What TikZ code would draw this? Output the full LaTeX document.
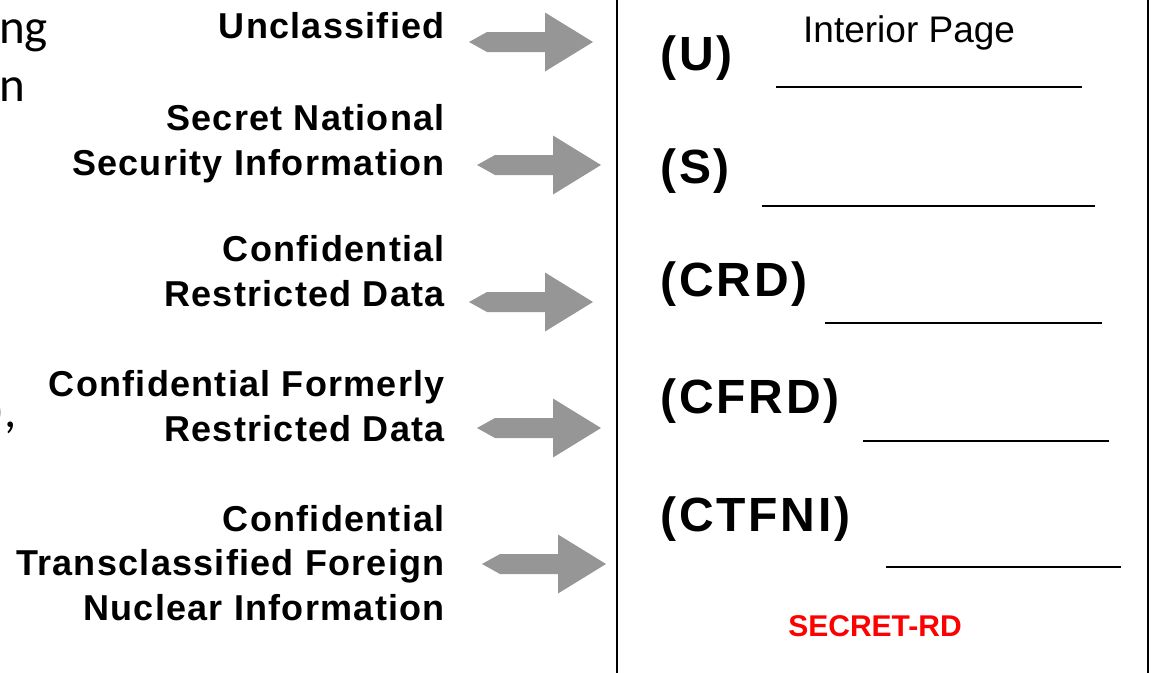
\documentclass[tikz,border=0pt]{standalone}
\usepackage{fontspec}
\setmainfont{Liberation Sans}
\newfontfamily\calibri{Carlito}
\newfontfamily\lblfont[LetterSpace=3.5]{Liberation Sans}
\newfontfamily\markfont[LetterSpace=6]{Liberation Sans}
\definecolor{arrowgray}{RGB}{150,150,150}
\definecolor{markred}{RGB}{255,0,0}
\begin{document}
\begin{tikzpicture}[x=1pt,y=-1pt,
  lbl/.style={inner sep=0pt,anchor=base east,align=right,font=\lblfont\bfseries\fontsize{36}{44.5}\selectfont},
  marktext/.style={inner sep=0pt,anchor=base west,font=\markfont\bfseries\fontsize{48}{56}\selectfont},
  frag/.style={inner sep=0pt,anchor=base west,font=\calibri\fontsize{49}{58}\selectfont},
  blank/.style={line width=2pt},
  grayarrow/.pic={\fill[arrowgray] (0,0) -- (18,-10) -- (76,-10) -- (76,-29.5) -- (124,0) -- (76,29.5) -- (76,10) -- (18,10) -- cycle;}
]
\useasboundingbox (0,0) rectangle (1151,672);
\clip (0,0) rectangle (1151,672);
% cropped fragments of a larger title at the left edge
\node[frag] (f1) at (-1,43) {ng};
\node[frag] (f2) at (-1,101) {n};
\node[frag] (f3) at (-11,427) {),};
% labels (base anchor = baseline of the last line)
\node[lbl] (l1) at (445,38) {Unclassified};
\node[lbl] (l2) at (445,175) {Secret National\\Security Information};
\node[lbl] (l3) at (445,306) {Confidential\\Restricted Data};
\node[lbl] (l4) at (445,441) {Confidential Formerly\\Restricted Data};
\node[lbl] (l5) at (445,620) {Confidential\\Transclassified Foreign\\Nuclear Information};
% arrows
\pic at (469,42) {grayarrow};
\pic at (477,165) {grayarrow};
\pic at (469,302) {grayarrow};
\pic at (477,428) {grayarrow};
\pic at (482,564) {grayarrow};
% page
\draw[line width=2.5pt] (617,-10) rectangle (1148,682);
\node[inner sep=0pt,anchor=base west,font=\fontsize{37}{44}\selectfont] (title) at (803,42) {Interior Page};
\node[marktext] (m1) at (660,70) {(U)};
\node[marktext] (m2) at (660,183) {(S)};
\node[marktext] (m3) at (660,296) {(CRD)};
\node[marktext] (m4) at (660,413) {(CFRD)};
\node[marktext] (m5) at (660,531) {(CTFNI)};
\coordinate (u1a) at (776,87); \coordinate (u1b) at (1082,87);
\coordinate (u2a) at (762,206); \coordinate (u2b) at (1095,206);
\coordinate (u3a) at (825,323); \coordinate (u3b) at (1102,323);
\coordinate (u4a) at (863,441); \coordinate (u4b) at (1109,441);
\coordinate (u5a) at (886,567); \coordinate (u5b) at (1121,567);
\draw[blank] (u1a) -- (u1b);
\draw[blank] (u2a) -- (u2b);
\draw[blank] (u3a) -- (u3b);
\draw[blank] (u4a) -- (u4b);
\draw[blank] (u5a) -- (u5b);
\node[inner sep=0pt,anchor=base,text=markred,font=\bfseries\fontsize{30}{36}\selectfont] (sr) at (875,636) {SECRET-RD};
\end{tikzpicture}
\end{document}
